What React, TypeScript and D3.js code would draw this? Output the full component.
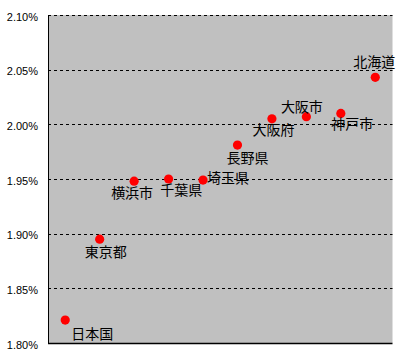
import React from "react";
import * as d3 from "d3";

const categories = ["日本国", "東京都", "横浜市", "千葉県", "埼玉県", "長野県", "大阪府", "大阪市", "神戸市", "北海道"];
const rates = [1.821, 1.895, 1.948, 1.950, 1.949, 1.981, 2.005, 2.007, 2.010, 2.043];
const yTicks = [1.80, 1.85, 1.90, 1.95, 2.00, 2.05, 2.10];

// label placement (layout only): [dx, dy] relative to the point, text centered
const labelOffsets: [number, number][] = [
  [27, 19], [6, 18], [-2, 17], [12.6, 16], [25, 3], [10, 18], [1.5, 16], [-4.5, -5], [11.5, 16], [-1, -10],
];

const W = 405, H = 358;
const left = 48, right = 392.5, top = 15, bottom = 343;

export default function App() {
  const x = d3.scaleBand<string>().domain(categories).range([left, right]);
  const y = d3.scaleLinear().domain([1.8, 2.1]).range([bottom, top]);
  return (
    <svg width={W} height={H} style={{ position: "absolute", left: 0, top: 0, background: "#fff" }}>
      <rect x={left} y={top} width={right - left} height={bottom - top} fill="#C0C0C0" />
      {yTicks.slice(1).map((t) => (
        <line key={t} x1={left} x2={right} y1={Math.round(y(t)) + 0.5} y2={Math.round(y(t)) + 0.5}
          stroke="#000" strokeWidth={1} strokeDasharray="3,3" />
      ))}
      <line x1={left + 0.5} x2={left + 0.5} y1={top} y2={bottom + 1} stroke="#000" strokeWidth={1} />
      <line x1={left} x2={right} y1={bottom + 0.5} y2={bottom + 0.5} stroke="#000" strokeWidth={1.5} />
      {yTicks.map((t) => (
        <text key={t} x={38} y={y(t) + 5.5} textAnchor="end" fontFamily="'Liberation Sans', Arial, sans-serif"
          fontSize={11} fill="#000">{t.toFixed(2) + "%"}</text>
      ))}
      {categories.map((c, i) => {
        const cx = (x(c) as number) + x.bandwidth() / 2;
        const cy = y(rates[i]);
        return (
          <g key={c}>
            <circle cx={cx} cy={cy} r={4.6} fill="#FF0000" />
            <text x={cx + labelOffsets[i][0]} y={cy + labelOffsets[i][1]} textAnchor="middle"
              fontFamily="'Noto Sans CJK JP', sans-serif" fontSize={14} fill="#000">{c}</text>
          </g>
        );
      })}
    </svg>
  );
}
